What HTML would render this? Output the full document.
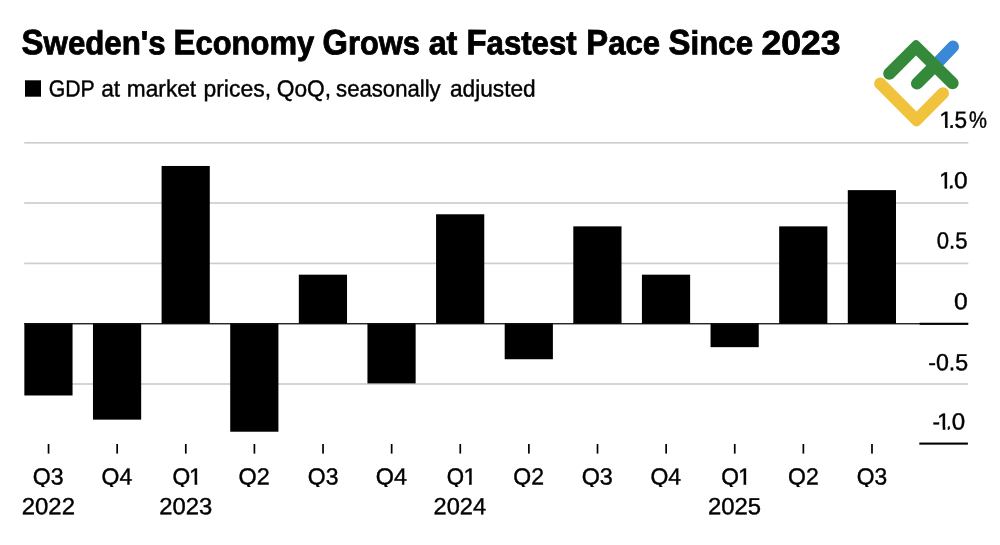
<!DOCTYPE html>
<html><head><meta charset="utf-8"><title>Sweden's Economy Grows at Fastest Pace Since 2023</title>
<style>
html,body{margin:0;padding:0;background:#fff;}
body{width:1000px;height:545px;overflow:hidden;}
svg{display:block;will-change:transform;}
text{font-family:"Liberation Sans",sans-serif;fill:#000;}
.t{font-weight:bold;font-size:33.3px;stroke:#000;stroke-width:0.85;}
.l{font-size:23.4px;stroke:#000;stroke-width:0.4;}
</style></head><body>
<svg width="1000" height="545" viewBox="0 0 1000 545">
<rect width="1000" height="545" fill="#fff"/>
<clipPath id="cq"><rect x="0" y="455" width="1000" height="32"/></clipPath>
<rect x="24.2" y="141.95" width="944.10" height="1.7" fill="#cecece"/>
<rect x="24.2" y="202.15" width="944.10" height="1.7" fill="#cecece"/>
<rect x="24.2" y="262.55" width="944.10" height="1.7" fill="#cecece"/>
<rect x="24.2" y="383.15" width="944.10" height="1.7" fill="#cecece"/>
<rect x="24.35" y="323.00" width="48.2" height="72.48" fill="#000"/>
<rect x="92.97" y="323.00" width="48.2" height="96.64" fill="#000"/>
<rect x="161.59" y="165.96" width="48.2" height="158.04" fill="#000"/>
<rect x="230.21" y="323.00" width="48.2" height="108.72" fill="#000"/>
<rect x="298.83" y="274.68" width="48.2" height="49.32" fill="#000"/>
<rect x="367.45" y="323.00" width="48.2" height="60.40" fill="#000"/>
<rect x="436.07" y="214.28" width="48.2" height="109.72" fill="#000"/>
<rect x="504.69" y="323.00" width="48.2" height="36.24" fill="#000"/>
<rect x="573.31" y="226.36" width="48.2" height="97.64" fill="#000"/>
<rect x="641.93" y="274.68" width="48.2" height="49.32" fill="#000"/>
<rect x="710.55" y="323.00" width="48.2" height="24.16" fill="#000"/>
<rect x="779.17" y="226.36" width="48.2" height="97.64" fill="#000"/>
<rect x="847.79" y="190.12" width="48.2" height="133.88" fill="#000"/>
<rect x="24.2" y="323.10" width="944.10" height="1.3" fill="#111"/>
<rect x="919.65" y="322.75" width="48.50" height="2.1" fill="#000"/>
<rect x="919.3" y="442.55" width="48.60" height="2.1" fill="#000"/>
<rect x="47.70" y="444.0" width="1.7" height="9.6" fill="#000"/>
<rect x="116.32" y="444.0" width="1.7" height="9.6" fill="#000"/>
<rect x="184.94" y="444.0" width="1.7" height="9.6" fill="#000"/>
<rect x="253.56" y="444.0" width="1.7" height="9.6" fill="#000"/>
<rect x="322.18" y="444.0" width="1.7" height="9.6" fill="#000"/>
<rect x="390.80" y="444.0" width="1.7" height="9.6" fill="#000"/>
<rect x="459.42" y="444.0" width="1.7" height="9.6" fill="#000"/>
<rect x="528.04" y="444.0" width="1.7" height="9.6" fill="#000"/>
<rect x="596.66" y="444.0" width="1.7" height="9.6" fill="#000"/>
<rect x="665.28" y="444.0" width="1.7" height="9.6" fill="#000"/>
<rect x="733.90" y="444.0" width="1.7" height="9.6" fill="#000"/>
<rect x="802.52" y="444.0" width="1.7" height="9.6" fill="#000"/>
<rect x="871.14" y="444.0" width="1.7" height="9.6" fill="#000"/>
<text class="t" transform="matrix(1 0.0006 0 1 0 -0.0130)"><tspan x="21.60" y="54.150" textLength="143.94" lengthAdjust="spacingAndGlyphs"><tspan font-size="35.2">S</tspan>weden&#39;s</tspan> <tspan x="173.60" y="54.059" textLength="140.64" lengthAdjust="spacingAndGlyphs"><tspan font-size="35.2">E</tspan>conomy</tspan> <tspan x="322.48" y="53.969" textLength="97.51" lengthAdjust="spacingAndGlyphs"><tspan font-size="35.2">G</tspan>rows</tspan> <tspan x="428.64" y="53.906" textLength="28.76" lengthAdjust="spacingAndGlyphs">at</tspan> <tspan x="466.44" y="53.883" textLength="110.19" lengthAdjust="spacingAndGlyphs"><tspan font-size="35.2">F</tspan>astest</tspan> <tspan x="586.29" y="53.811" textLength="73.71" lengthAdjust="spacingAndGlyphs"><tspan font-size="35.2">P</tspan>ace</tspan> <tspan x="668.60" y="53.762" textLength="84.44" lengthAdjust="spacingAndGlyphs"><tspan font-size="35.2">S</tspan>ince</tspan> <tspan style="font-size:33.7px" x="761.44" y="53.706" textLength="79.15" lengthAdjust="spacingAndGlyphs">2023</tspan></text>
<text class="l" transform="matrix(1 0.0006 0 1 0 -0.0292)"><tspan x="48.71" y="96.450" textLength="46.05" lengthAdjust="spacingAndGlyphs">GDP</tspan> <tspan x="101.20" y="96.419" textLength="18.98" lengthAdjust="spacingAndGlyphs">at</tspan> <tspan x="126.85" y="96.403" textLength="69.31" lengthAdjust="spacingAndGlyphs">market</tspan> <tspan x="203.45" y="96.357" textLength="67.62" lengthAdjust="spacingAndGlyphs">prices,</tspan> <tspan x="276.73" y="96.313" textLength="54.40" lengthAdjust="spacingAndGlyphs">QoQ,</tspan> <tspan x="336.09" y="96.278" textLength="104.59" lengthAdjust="spacingAndGlyphs">seasonally</tspan> <tspan x="449.98" y="96.209" textLength="85.77" lengthAdjust="spacingAndGlyphs">adjusted</tspan></text>
<text class="l" clip-path="url(#cq)" x="32.86" y="484.40" transform="matrix(1 0.0006 0 1 0 -0.0197)" textLength="30.88" lengthAdjust="spacingAndGlyphs">Q3</text>
<text class="l" x="21.73" y="514.15" transform="matrix(1 0.0006 0 1 0 -0.0130)" textLength="53.27" lengthAdjust="spacingAndGlyphs">2022</text>
<text class="l" clip-path="url(#cq)" x="101.51" y="484.40" transform="matrix(1 0.0006 0 1 0 -0.0609)" textLength="30.70" lengthAdjust="spacingAndGlyphs">Q4</text>
<clipPath id="c_q1_2"><rect x="150.91" y="454.00" width="110.00" height="28.00"/><rect x="194.61" y="482.00" width="2.60" height="5.00"/><rect x="201.51" y="482.00" width="70.00" height="5.00"/><rect x="150.91" y="482.00" width="38.60" height="5.00"/></clipPath><text class="l" y="484.40" transform="matrix(1 0.0006 0 1 0 -0.1035)" clip-path="url(#c_q1_2)"><tspan x="172.48" textLength="17.75" lengthAdjust="spacingAndGlyphs">Q</tspan><tspan x="188.99">1</tspan></text>
<text class="l" x="159.17" y="514.15" transform="matrix(1 0.0006 0 1 0 -0.0955)" textLength="53.05" lengthAdjust="spacingAndGlyphs">2023</text>
<text class="l" clip-path="url(#cq)" x="238.56" y="484.40" transform="matrix(1 0.0006 0 1 0 -0.1431)" textLength="31.23" lengthAdjust="spacingAndGlyphs">Q2</text>
<text class="l" clip-path="url(#cq)" x="307.81" y="484.40" transform="matrix(1 0.0006 0 1 0 -0.1847)" textLength="30.63" lengthAdjust="spacingAndGlyphs">Q3</text>
<text class="l" clip-path="url(#cq)" x="375.73" y="484.40" transform="matrix(1 0.0006 0 1 0 -0.2254)" textLength="31.23" lengthAdjust="spacingAndGlyphs">Q4</text>
<clipPath id="c_q1_6"><rect x="425.39" y="454.00" width="110.00" height="28.00"/><rect x="469.09" y="482.00" width="2.60" height="5.00"/><rect x="475.99" y="482.00" width="70.00" height="5.00"/><rect x="425.39" y="482.00" width="38.60" height="5.00"/></clipPath><text class="l" y="484.40" transform="matrix(1 0.0006 0 1 0 -0.2681)" clip-path="url(#c_q1_6)"><tspan x="446.84" textLength="17.36" lengthAdjust="spacingAndGlyphs">Q</tspan><tspan x="463.47">1</tspan></text>
<text class="l" x="433.57" y="514.15" transform="matrix(1 0.0006 0 1 0 -0.2601)" textLength="52.53" lengthAdjust="spacingAndGlyphs">2024</text>
<text class="l" clip-path="url(#cq)" x="513.26" y="484.40" transform="matrix(1 0.0006 0 1 0 -0.3080)" textLength="30.73" lengthAdjust="spacingAndGlyphs">Q2</text>
<text class="l" clip-path="url(#cq)" x="581.70" y="484.40" transform="matrix(1 0.0006 0 1 0 -0.3490)" textLength="31.17" lengthAdjust="spacingAndGlyphs">Q3</text>
<text class="l" clip-path="url(#cq)" x="650.41" y="484.40" transform="matrix(1 0.0006 0 1 0 -0.3902)" textLength="30.65" lengthAdjust="spacingAndGlyphs">Q4</text>
<clipPath id="c_q1_10"><rect x="699.87" y="454.00" width="110.00" height="28.00"/><rect x="743.57" y="482.00" width="2.60" height="5.00"/><rect x="750.47" y="482.00" width="70.00" height="5.00"/><rect x="699.87" y="482.00" width="38.60" height="5.00"/></clipPath><text class="l" y="484.40" transform="matrix(1 0.0006 0 1 0 -0.4328)" clip-path="url(#c_q1_10)"><tspan x="721.32" textLength="17.75" lengthAdjust="spacingAndGlyphs">Q</tspan><tspan x="737.95">1</tspan></text>
<text class="l" x="708.01" y="514.15" transform="matrix(1 0.0006 0 1 0 -0.4248)" textLength="53.14" lengthAdjust="spacingAndGlyphs">2025</text>
<text class="l" clip-path="url(#cq)" x="788.07" y="484.40" transform="matrix(1 0.0006 0 1 0 -0.4728)" textLength="30.70" lengthAdjust="spacingAndGlyphs">Q2</text>
<text class="l" clip-path="url(#cq)" x="856.69" y="484.40" transform="matrix(1 0.0006 0 1 0 -0.5140)" textLength="30.40" lengthAdjust="spacingAndGlyphs">Q3</text>
<clipPath id="c_y15"><rect x="901.30" y="97.00" width="110.00" height="28.00"/><rect x="945.00" y="125.00" width="2.60" height="5.00"/><rect x="950.35" y="125.00" width="70.00" height="12.00"/><rect x="901.30" y="125.00" width="38.60" height="12.00"/></clipPath><text class="l" y="127.80" transform="matrix(1 0.0006 0 1 0 -0.5657)" clip-path="url(#c_y15)"><tspan x="939.38">1</tspan><tspan x="949.04" textLength="5.53" lengthAdjust="spacingAndGlyphs">.</tspan><tspan x="954.39" textLength="12.58" lengthAdjust="spacingAndGlyphs">5</tspan><tspan x="969.07" textLength="17.96" lengthAdjust="spacingAndGlyphs">%</tspan></text>
<clipPath id="c_y10"><rect x="900.85" y="158.00" width="110.00" height="28.00"/><rect x="944.55" y="186.00" width="2.60" height="5.00"/><rect x="949.85" y="186.00" width="70.00" height="12.00"/><rect x="900.85" y="186.00" width="38.60" height="12.00"/></clipPath><text class="l" y="188.35" transform="matrix(1 0.0006 0 1 0 -0.5653)" clip-path="url(#c_y10)"><tspan x="938.93">1</tspan><tspan x="948.91" textLength="5.10" lengthAdjust="spacingAndGlyphs">.</tspan><tspan x="953.92" textLength="13.63" lengthAdjust="spacingAndGlyphs">0</tspan></text>
<text class="l" x="936.73" y="248.55" transform="matrix(1 0.0006 0 1 0 -0.5620)" textLength="30.74" lengthAdjust="spacingAndGlyphs">0.5</text>
<text class="l" x="954.03" y="309.20" transform="matrix(1 0.0006 0 1 0 -0.5724)" textLength="13.72" lengthAdjust="spacingAndGlyphs">0</text>
<text class="l" x="928.18" y="370.20" transform="matrix(1 0.0006 0 1 0 -0.5569)" textLength="39.98" lengthAdjust="spacingAndGlyphs">-0.5</text>
<clipPath id="c_ym10"><rect x="899.03" y="399.00" width="110.00" height="28.00"/><rect x="942.73" y="427.00" width="2.60" height="5.00"/><rect x="947.75" y="427.00" width="70.00" height="12.00"/><rect x="899.03" y="427.00" width="38.60" height="12.00"/></clipPath><text class="l" y="429.40" transform="matrix(1 0.0006 0 1 0 -0.5595)" clip-path="url(#c_ym10)"><tspan x="932.45" textLength="7.52" lengthAdjust="spacingAndGlyphs">-</tspan><tspan x="937.11">1</tspan><tspan x="946.59" textLength="4.93" lengthAdjust="spacingAndGlyphs">.</tspan><tspan x="951.85" textLength="13.43" lengthAdjust="spacingAndGlyphs">0</tspan></text>
<rect x="25" y="80.3" width="16" height="16.4" fill="#000"/>
<path d="M934.9 65.6 L953.0 46.6" fill="none" stroke="#3a89d9" stroke-width="12" stroke-linecap="round"/>
<path d="M885.04 69.28 L913.17 41.21 L913.99 40.58 L914.95 40.18 L915.98 40.04 L917.02 40.17 L917.98 40.57 L918.81 41.20 L956.79 78.76 L957.55 79.68 L958.12 80.73 L958.48 81.88 L958.60 83.07 L958.49 84.26 L958.15 85.40 L957.59 86.46 L956.84 87.39 L955.92 88.15 L954.87 88.72 L953.72 89.08 L952.53 89.20 L951.34 89.09 L950.20 88.75 L949.14 88.19 L948.21 87.44 L916.02 55.60 L893.66 77.92 L892.73 78.68 L891.68 79.24 L890.53 79.58 L889.34 79.70 L888.15 79.58 L887.01 79.23 L885.96 78.67 L885.03 77.91 L884.27 76.98 L883.71 75.93 L883.37 74.78 L883.25 73.59 L883.37 72.40 L883.72 71.26 L884.28 70.21 L885.04 69.28Z" fill="#35893b"/>
<path d="M934.9 65.6 L917.05 83.45" fill="none" stroke="#35893b" stroke-width="12.2" stroke-linecap="round"/>
<path d="M875.95 87.84 L913.10 125.09 L914.10 125.86 L915.26 126.34 L916.51 126.50 L917.75 126.34 L918.91 125.85 L919.91 125.08 L947.26 97.53 L948.00 96.61 L948.55 95.58 L948.89 94.45 L949.00 93.28 L948.88 92.11 L948.53 90.98 L947.98 89.95 L947.23 89.04 L946.31 88.30 L945.28 87.75 L944.15 87.41 L942.98 87.30 L941.81 87.42 L940.68 87.77 L939.65 88.32 L938.74 89.07 L916.49 111.49 L884.45 79.36 L883.54 78.62 L882.50 78.06 L881.38 77.72 L880.21 77.60 L879.04 77.71 L877.91 78.05 L876.87 78.61 L875.96 79.35 L875.22 80.26 L874.66 81.30 L874.32 82.42 L874.20 83.59 L874.31 84.76 L874.65 85.89 L875.21 86.93 L875.95 87.84Z" fill="#f1c33c"/>
</svg></body></html>
